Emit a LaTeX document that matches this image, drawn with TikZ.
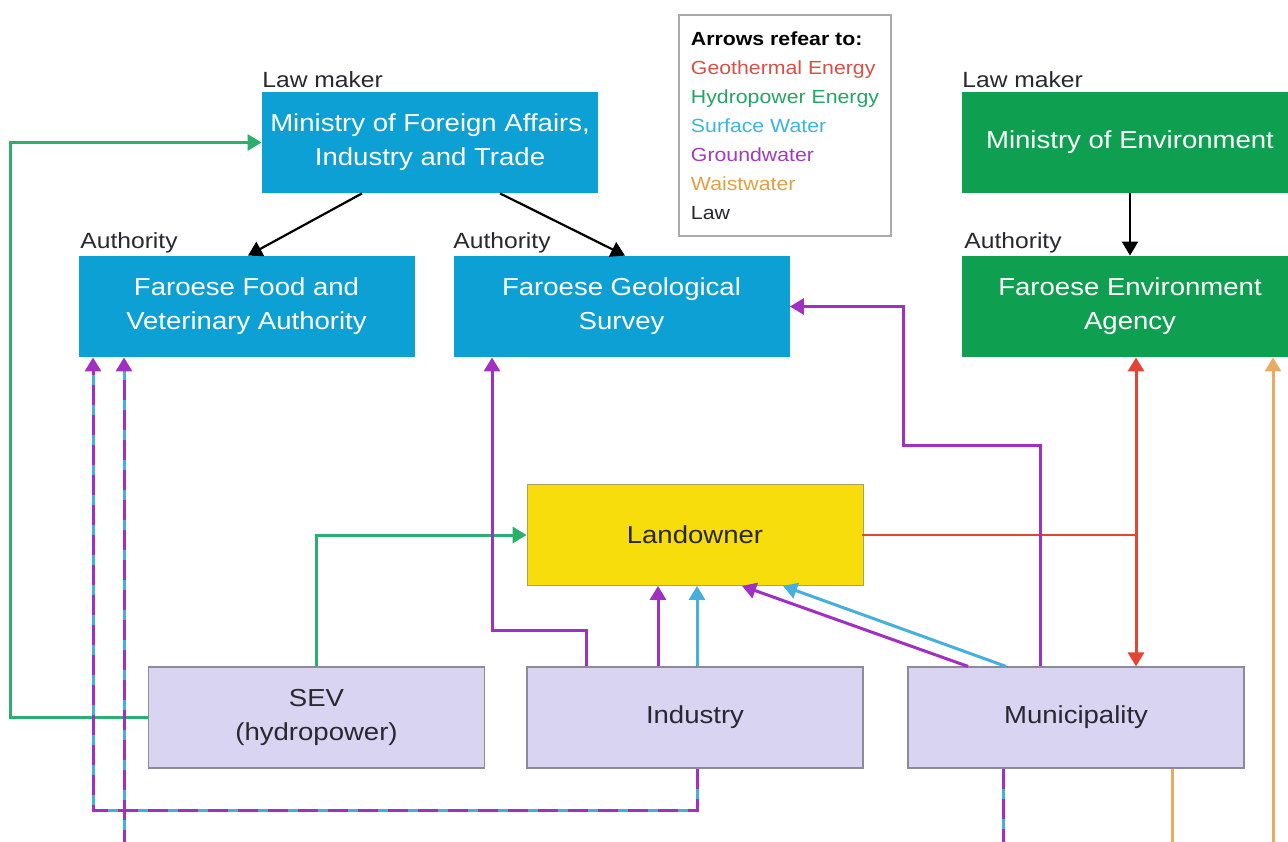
\documentclass[tikz,border=0pt]{standalone}
\usepackage{fontspec}
\setmainfont{Liberation Sans}[FakeStretch=1.12]
\usetikzlibrary{arrows.meta,calc}
\definecolor{boxblue}{RGB}{12,160,212}
\definecolor{boxgreen}{RGB}{14,160,80}
\definecolor{landyellow}{RGB}{248,221,12}
\definecolor{ownerborder}{RGB}{170,160,90}
\definecolor{lav}{RGB}{216,212,242}
\definecolor{lavborder}{RGB}{140,138,155}
\definecolor{txtdark}{RGB}{40,40,48}
\definecolor{lpurple}{RGB}{160,48,195}
\definecolor{lblue}{RGB}{70,175,222}
\definecolor{lgreen}{RGB}{40,176,108}
\definecolor{lred}{RGB}{230,68,50}
\definecolor{lorange}{RGB}{232,172,95}
\definecolor{legred}{RGB}{215,80,70}
\definecolor{leggreen}{RGB}{35,165,100}
\definecolor{legblue}{RGB}{60,180,222}
\definecolor{legpurple}{RGB}{160,60,190}
\definecolor{legorange}{RGB}{225,160,70}
\definecolor{legborder}{RGB}{170,170,170}
\begin{document}
\begin{tikzpicture}[x=0.5pt,y=-0.5pt,
  box/.style={rectangle, minimum width=168pt, minimum height=50.5pt, inner sep=0pt, align=center, font=\fontsize{12.3}{17}\selectfont},
  bluebox/.style={box, fill=boxblue, text=white},
  greenbox/.style={box, fill=boxgreen, text=white},
  lavbox/.style={box, fill=lav, draw=lavborder, line width=0.6pt, text=txtdark},
  ownerbox/.style={box, fill=landyellow, draw=ownerborder, line width=0.4pt, text=txtdark},
  tag/.style={anchor=base west, inner sep=0pt, font=\fontsize{11}{13}\selectfont, text=txtdark},
  tip/.style={-{Triangle[width=8pt,length=7pt]}},
  conn/.style={line width=1.5pt, line join=miter},
  lawline/.style={conn, line width=1.1pt, draw=black, tip},
  gwline/.style={conn, draw=lpurple},
  swline/.style={conn, draw=lblue},
  hpline/.style={conn, draw=lgreen},
  geoline/.style={conn, draw=lred},
  wwline/.style={conn, draw=lorange},
  mixbase/.style={conn, draw=lblue},
  mixdash/.style={conn, draw=lpurple, dash pattern=on 10pt off 5pt}
]
\useasboundingbox (0,0) rectangle (1288,841);
\clip (0,0) rectangle (1288,841);
\fill[white] (0,0) rectangle (1288,841);

% boxes
\node[bluebox] (mfa) at (430,142.5) {Ministry of Foreign Affairs,\\Industry and Trade};
\node[bluebox] (fva) at (246.5,306.5) {Faroese Food and\\Veterinary Authority};
\node[bluebox] (fgs) at (621.5,306.5) {Faroese Geological\\Survey};
\node[greenbox] (moe) at (1130,142.5) {Ministry of Environment};
\node[greenbox] (fea) at (1130,306.5) {Faroese Environment\\Agency};
\node[ownerbox] (lo) at (695,535) {Landowner};
\node[lavbox] (sev) at (316.5,717.5) {SEV\\(hydropower)};
\node[lavbox] (ind) at (695,717.5) {Industry};
\node[lavbox] (mun) at (1076,717.5) {Municipality};

% tags
\node[tag] (t1) at (262,87) {Law maker};
\node[tag] (t2) at (962,87) {Law maker};
\node[tag] (t3) at (80,248) {Authority};
\node[tag] (t4) at (453,248) {Authority};
\node[tag] (t5) at (964,248) {Authority};

% legend
\node[draw=legborder, line width=0.9pt, fill=white, minimum width=106pt, minimum height=110.5pt,
      inner sep=0pt, align=left, font=\fontsize{9.5}{14.5}\selectfont] (legend) at (785,125.5)
  {\textbf{Arrows refear to:}\\
   \textcolor{legred}{Geothermal Energy}\\
   \textcolor{leggreen}{Hydropower Energy}\\
   \textcolor{legblue}{Surface Water}\\
   \textcolor{legpurple}{Groundwater}\\
   \textcolor{legorange}{Waistwater}\\
   \textcolor{txtdark}{Law}};

% free ends below the picture
\coordinate (b124) at (124,880);
\coordinate (b1003) at (1003,880);
\coordinate (b1172) at (1172,880);
\coordinate (b1273) at (1273,880);

% law
\draw[lawline] (mfa.south -| 362,0) -- (fva.north -| 248,0);
\draw[lawline] (mfa.south -| 500,0) -- (fgs.north -| 625,0);
\draw[lawline] (moe.south) -- (fea.north);

% hydropower
\draw[hpline, tip] (sev.west) -- (sev.west -| 10,0) |- (mfa.west);
\draw[hpline, tip] (sev.north -| 316,0) |- (lo.west);

% geothermal
\draw[geoline, line width=1.2pt, line cap=rect] (lo.east) -- (lo.east -| 1136,0);
\draw[geoline, {Triangle[width=8pt,length=7pt]}-{Triangle[width=8pt,length=7pt]}] (fea.south -| 1136,0) -- (mun.north -| 1136,0);

% groundwater
\draw[gwline, tip] (mun.north -| 1040,0) |- (903,445) |- (fgs.east);
\draw[gwline, tip] (ind.north -| 586,0) |- (492,630) -- (fgs.south -| 492,0);
\draw[gwline, tip] (ind.north -| 658,0) -- (lo.south -| 658,0);
\draw[gwline, tip] (mun.north -| 968,0) -- (lo.south -| 742,0);

% surface water
\draw[swline, tip] (ind.north -| 697,0) -- (lo.south -| 697,0);
\draw[swline, tip] (mun.north -| 1006,0) -- (lo.south -| 783,0);

% mixed groundwater / surface water
\draw[mixbase, shorten >=6pt] (ind.south -| 697,0) |- (93,810) -- (fva.south -| 93,0);
\draw[mixdash, tip] (ind.south -| 697,0) |- (93,810) -- (fva.south -| 93,0);
\draw[mixbase, shorten >=6pt] (b124) -- (fva.south -| b124);
\draw[mixdash, tip] (b124) -- (fva.south -| b124);
\draw[mixbase] (mun.south -| b1003) -- (b1003);
\draw[mixdash] (mun.south -| b1003) -- (b1003);

% wastewater
\draw[wwline] (mun.south -| b1172) -- (b1172);
\draw[wwline, tip] (b1273) -- (fea.south -| b1273);
\end{tikzpicture}
\end{document}
